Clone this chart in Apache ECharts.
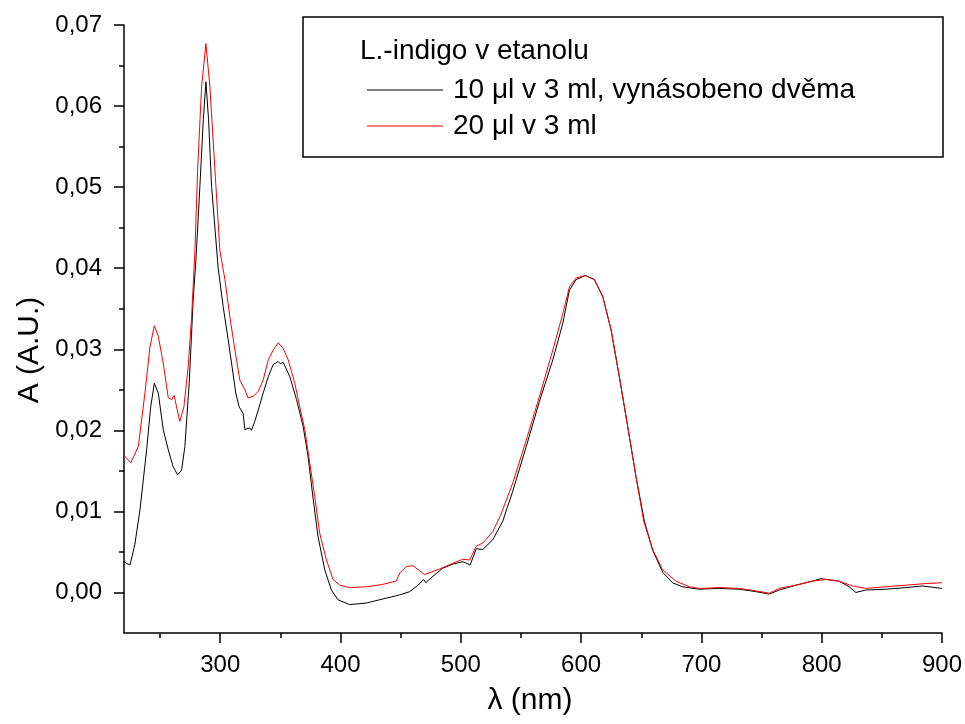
<!DOCTYPE html>
<html>
<head>
<meta charset="utf-8">
<script src="https://cdn.jsdelivr.net/npm/echarts@6/dist/echarts.min.js"></script>
<style>html,body{margin:0;padding:0;background:#fff;}#chart{width:965px;height:724px;}</style>
</head>
<body>
<div id="chart"></div>
<script>
// Series 1: 10 µl v 3 ml, vynásobeno dvěma (black)
var blackWavelength = [220,222,225,229,233.3,238.8,242.2,245.2,248.5,252.6,256.8,260.9,264.6,267.9,270.6,274.2,277.5,279.8,283.1,285.9,288.1,290.3,292.8,298.3,302.4,306.6,309.4,312.9,315.7,319,320.5,324.6,326,328.7,331.6,335.7,339.9,344,348.2,350,352.3,357.9,363.4,368.9,373,377.2,381.3,386.9,392.4,397.9,407.6,421.5,435.3,449.2,457.5,464.4,469.1,470.8,476.8,485.1,493.4,501.7,507.8,512.8,518.3,526.6,534.9,543.2,554.4,565.4,576.5,584.8,590.3,595.9,603.6,611,618,624.9,631.8,638.7,645.6,652.6,659.5,667.8,676,684.4,698.2,714.8,731.5,745.3,756.4,764.7,778.6,792.4,799.3,814.5,822.9,828.4,836.7,853.3,869.9,883.6,900];
var blackAbs = [0.0038,0.0036,0.0034,0.0059,0.0102,0.0176,0.0229,0.0258,0.0246,0.0201,0.0176,0.0155,0.0145,0.0151,0.0180,0.0258,0.0361,0.0410,0.0501,0.0583,0.0630,0.0583,0.0501,0.0400,0.0353,0.0312,0.0283,0.0246,0.0229,0.0221,0.0201,0.0203,0.0200,0.0211,0.0225,0.0246,0.0266,0.0281,0.0285,0.0282,0.0284,0.0266,0.0238,0.0205,0.0168,0.0116,0.0069,0.0028,0.0003,-0.0009,-0.0015,-0.0013,-0.0008,-0.0003,0.0001,0.0009,0.0016,0.0012,0.0020,0.0030,0.0035,0.0038,0.0034,0.0054,0.0053,0.0065,0.0088,0.0125,0.0180,0.0236,0.0287,0.0332,0.0373,0.0386,0.0391,0.0386,0.0365,0.0324,0.0266,0.0205,0.0143,0.0088,0.0052,0.0025,0.0012,0.0007,0.0004,0.0005,0.0004,0.0001,-0.0002,0.0003,0.0009,0.0014,0.0017,0.0014,0.0007,0.0000,0.0003,0.0004,0.0006,0.0008,0.0005];

// Series 2: 20 µl v 3 ml (red)
var redWavelength = [220,225.6,231.9,237.4,241.6,245.2,248.5,252.6,256.8,259.6,261.7,263.7,266.4,269.8,273.4,276.2,279,281.2,284.5,288.1,291.4,295.6,299.7,303.9,308,312.2,316.3,320.5,323.2,327.4,331.6,335.7,339.9,344,348.2,352.3,356.5,362,366.1,370.3,374.4,378.6,382.7,388.3,393.8,399.3,407.6,421.5,435.3,446.3,449.2,454.7,460.2,469.9,482.4,493.4,501.7,507.3,512.8,518.3,526.6,533,543.2,554.4,565.4,576.5,584.8,590.3,595.9,603.6,611,618,624.9,631.8,638.7,645.6,652,659.5,667.8,678.9,689.9,698.2,714.8,731.5,745.3,756.4,764.7,778.6,792.4,803.5,814.5,825.6,836.7,853.3,869.9,886.5,900];
var redAbs = [0.0169,0.0160,0.0180,0.0246,0.0303,0.0329,0.0316,0.0283,0.0240,0.0238,0.0243,0.0229,0.0211,0.0229,0.0279,0.0340,0.0423,0.0521,0.0624,0.0677,0.0624,0.0521,0.0422,0.0386,0.0340,0.0299,0.0262,0.0250,0.0240,0.0242,0.0248,0.0262,0.0287,0.0299,0.0308,0.0301,0.0287,0.0258,0.0229,0.0201,0.0160,0.0118,0.0073,0.0040,0.0016,0.0009,0.0006,0.0007,0.0010,0.0014,0.0024,0.0032,0.0033,0.0022,0.0029,0.0036,0.0041,0.0040,0.0057,0.0061,0.0075,0.0095,0.0135,0.0188,0.0242,0.0299,0.0344,0.0377,0.0388,0.0391,0.0386,0.0365,0.0324,0.0266,0.0205,0.0143,0.0088,0.0053,0.0028,0.0014,0.0007,0.0005,0.0006,0.0005,0.0002,-0.0001,0.0005,0.0009,0.0014,0.0016,0.0014,0.0008,0.0005,0.0007,0.0009,0.0011,0.0012];

var seriesNames = ['10 \u03bcl v 3 ml, vyn\u00e1sobeno dv\u011bma', '20 \u03bcl v 3 ml'];
var legendTitle = 'L.-indigo v etanolu';
var xTitle = '\u03bb (nm)';
var yTitle = 'A (A.U.)';
var xMajorTicks = [300,400,500,600,700,800,900];
var xMinorTicks = [250,350,450,550,650,750,850];
var yMajorTicks = [0,0.01,0.02,0.03,0.04,0.05,0.06,0.07];
var yMinorTicks = [0.005,0.015,0.025,0.035,0.045,0.055,0.065];

function zip(a, b) { return a.map(function (v, i) { return [v, b[i]]; }); }

var FONT = 'Liberation Sans, Arial, sans-serif';
var chart = echarts.init(document.getElementById('chart'), null, {renderer: 'canvas'});
var axisLineStyle = {color: '#000', width: 1.5};

chart.setOption({
  animation: false,
  backgroundColor: '#fff',
  grid: {left: 124, right: 22, top: 25, bottom: 91, containLabel: false},
  xAxis: [{
    type: 'value', min: 220, max: 900, position: 'bottom',
    axisLine: {show: true, onZero: false, lineStyle: axisLineStyle},
    axisTick: {show: true, customValues: xMajorTicks, length: 10, lineStyle: axisLineStyle},
    axisLabel: {customValues: xMajorTicks, color: '#000', fontFamily: FONT, fontSize: 24, margin: 20},
    splitLine: {show: false}
  }, {
    type: 'value', min: 220, max: 900, position: 'bottom',
    axisLine: {show: false, onZero: false},
    axisTick: {show: true, customValues: xMinorTicks, length: 5, lineStyle: axisLineStyle},
    axisLabel: {show: false},
    splitLine: {show: false}
  }],
  yAxis: [{
    type: 'value', min: -0.005, max: 0.07, position: 'left',
    axisLine: {show: true, onZero: false, lineStyle: axisLineStyle},
    axisTick: {show: true, customValues: yMajorTicks, length: 10, lineStyle: axisLineStyle},
    axisLabel: {customValues: yMajorTicks, color: '#000', fontFamily: FONT, fontSize: 24, margin: 22,
      formatter: function (v) { return v.toFixed(2).replace('.', ','); }},
    splitLine: {show: false}
  }, {
    type: 'value', min: -0.005, max: 0.07, position: 'left',
    axisLine: {show: false, onZero: false},
    axisTick: {show: true, customValues: yMinorTicks, length: 5, lineStyle: axisLineStyle},
    axisLabel: {show: false},
    splitLine: {show: false}
  }],
  legend: {
    orient: 'vertical', left: 367, top: 76, padding: 0,
    icon: 'rect', itemWidth: 76, itemHeight: 1, itemGap: 8,
    data: seriesNames,
    textStyle: {color: '#000', fontFamily: FONT, fontSize: 28, padding: [0, 0, 0, 5]}
  },
  graphic: [
    {type: 'rect', shape: {x: 303, y: 17, width: 640, height: 140}, style: {fill: 'none', stroke: '#000', lineWidth: 1.5}, z: 10},
    {type: 'text', x: 360, y: 51, style: {text: legendTitle, fill: '#000', font: '28px ' + FONT, textVerticalAlign: 'middle'}, z: 10},
    {type: 'text', x: 530, y: 701, style: {text: xTitle, fill: '#000', font: '30px ' + FONT, textAlign: 'center', textVerticalAlign: 'middle'}},
    {type: 'text', x: 30, y: 350, rotation: Math.PI / 2, style: {text: yTitle, fill: '#000', font: '30px ' + FONT, textAlign: 'center', textVerticalAlign: 'middle'}}
  ],
  series: [{
    name: seriesNames[0], type: 'line', xAxisIndex: 0, yAxisIndex: 0,
    data: zip(blackWavelength, blackAbs), symbol: 'none', smooth: false,
    lineStyle: {color: '#000', width: 1}, itemStyle: {color: '#000'}, z: 2
  }, {
    name: seriesNames[1], type: 'line', xAxisIndex: 0, yAxisIndex: 0,
    data: zip(redWavelength, redAbs), symbol: 'none', smooth: false,
    lineStyle: {color: '#ff0000', width: 1}, itemStyle: {color: '#ff0000'}, z: 3
  }]
});
</script>
</body>
</html>
